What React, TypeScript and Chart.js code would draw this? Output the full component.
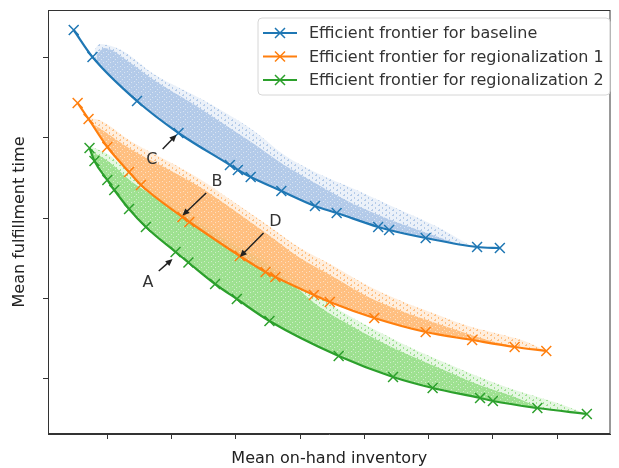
import React, { useEffect, useRef } from "react";
import { Chart, registerables } from "chart.js";

Chart.register(...registerables);

// ---- Efficient frontiers (x = mean on-hand inventory, y = mean fulfillment time; arbitrary units) ----
const baselineX = [0.477, 0.769, 1.462, 2.108, 2.908, 3.031, 3.231, 3.708, 4.231, 4.569, 5.215, 5.385, 5.954, 6.754, 7.108];
const baselineY = [5.35, 5.0125, 4.4625, 4.0625, 3.6625, 3.6, 3.5125, 3.3375, 3.15, 3.0625, 2.8875, 2.85, 2.75, 2.6375, 2.625];

const reg1X = [0.538, 0.708, 1.0, 1.338, 1.523, 2.169, 2.277, 3.062, 3.462, 3.615, 4.215, 4.462, 5.154, 5.954, 6.677, 7.338, 7.831];
const reg1Y = [4.4375, 4.2375, 3.8875, 3.575, 3.4125, 3.0125, 2.95, 2.525, 2.325, 2.2625, 2.0375, 1.95, 1.75, 1.575, 1.475, 1.3875, 1.3375];

const reg2X = [0.723, 0.8, 1.0, 1.108, 1.338, 1.6, 2.062, 2.262, 2.677, 3.015, 3.523, 4.6, 5.446, 6.062, 6.8, 7.0, 7.692, 8.462];
const reg2Y = [3.875, 3.7125, 3.475, 3.35, 3.1125, 2.8875, 2.575, 2.44375, 2.175, 1.9875, 1.7125, 1.275, 1.0125, 0.875, 0.75, 0.7125, 0.625, 0.55];

// ---- Upper edges of the dense part of the simulated solution clouds ----
const cloudBaseX = [0.831, 0.954, 1.338, 1.723, 2.338, 2.954, 3.262, 3.754, 4.262, 4.769, 5.185, 5.538, 6.062, 6.415];
const cloudBaseY = [5.04, 5.125, 4.95, 4.725, 4.425, 4.1, 3.9375, 3.6625, 3.425, 3.2, 3.05, 2.9375, 2.7875, 2.6875];

const cloudReg1X = [0.723, 0.877, 1.385, 1.908, 2.415, 2.923, 3.446, 4.0, 4.523, 5.031, 5.538, 6.062, 6.569, 7.031, 7.492];
const cloudReg1Y = [4.2, 4.125, 3.85, 3.625, 3.4, 3.125, 2.825, 2.5, 2.2625, 2.025, 1.85, 1.7, 1.5625, 1.45, 1.375];

const cloudReg2X = [0.754, 1.031, 1.385, 1.908, 2.415, 2.923, 3.446, 3.954, 4.262, 4.769, 5.292, 5.8, 6.308, 6.831, 7.338, 7.723];
const cloudReg2Y = [3.83, 3.7, 3.45, 3.1875, 2.9375, 2.6875, 2.45, 2.125, 1.9125, 1.6625, 1.4375, 1.25, 1.075, 0.9, 0.7625, 0.63];

// ---- Upper edges of the sparse outskirts of the clouds ----
const sparseBaseX = [0.8, 0.877, 1.215, 1.723, 2.492, 3.262, 3.754, 4.262, 4.877, 5.385, 6.108, 6.646];
const sparseBaseY = [5.1, 5.175, 5.1, 4.8, 4.475, 4.1, 3.7875, 3.5625, 3.35, 3.1625, 2.9, 2.655];

const sparseReg1X = [0.708, 0.877, 1.385, 1.908, 2.415, 2.923, 3.446, 4.0, 4.523, 5.031, 5.538, 6.062, 6.569, 7.031, 7.492, 7.831];
const sparseReg1Y = [4.25, 4.225, 3.95, 3.725, 3.5, 3.225, 2.9375, 2.625, 2.4, 2.1625, 1.975, 1.8125, 1.6625, 1.5625, 1.4625, 1.34];

const sparseReg2X = [0.723, 1.031, 1.385, 1.908, 2.415, 2.923, 3.446, 3.954, 4.262, 4.769, 5.292, 5.8, 6.308, 6.831, 7.338, 7.954, 8.462];
const sparseReg2Y = [3.9, 3.7875, 3.5375, 3.275, 3.025, 2.775, 2.5375, 2.25, 2.0375, 1.775, 1.55, 1.35, 1.175, 1.0, 0.85, 0.7, 0.55];

// ---- Legend ----
const legendLabels = [
  "Efficient frontier for baseline",
  "Efficient frontier for regionalization 1",
  "Efficient frontier for regionalization 2",
];

// ---- Annotations (data coordinates) ----
const annLabels = ["C", "B", "D", "A"];
const annTextX = [1.692, 2.708, 3.615, 1.631];
const annTextY = [3.725, 3.45, 2.95, 2.1875];
const annTailX = [1.862, 2.538, 3.431, 1.8];
const annTailY = [3.8625, 3.3125, 2.8125, 2.3375];
const annHeadX = [2.077, 2.169, 3.062, 2.015];
const annHeadY = [4.04, 3.03, 2.5125, 2.4875];

const xTitle = "Mean on-hand inventory";
const yTitle = "Mean fulfillment time";

const BLUE = "#1f77b4";
const ORANGE = "#ff7f0e";
const GREEN = "#2ca02c";
const LBLUE = "174,199,232";
const LORANGE = "255,187,120";
const LGREEN = "152,223,138";
const FONT = '"DejaVu Sans", sans-serif';

const zip = (xs: number[], ys: number[]) => xs.map((x, i) => ({ x, y: ys[i] }));

function frontier(label: string, xs: number[], ys: number[], color: string) {
  return {
    label,
    data: zip(xs, ys),
    borderColor: color,
    backgroundColor: color,
    borderWidth: 2.2,
    pointStyle: "crossRot" as const,
    pointRadius: 7,
    pointBorderWidth: 1.5,
    pointBorderColor: color,
    cubicInterpolationMode: "monotone" as const,
    fill: false,
  };
}

function cloud(xs: number[], ys: number[], bg: any, target: number) {
  return {
    label: "",
    data: zip(xs, ys),
    borderColor: "transparent",
    backgroundColor: bg,
    borderWidth: 0,
    pointRadius: 0,
    cubicInterpolationMode: "monotone" as const,
    fill: { target },
  };
}

// speckled texture tiles imitating a dense scatter of tiny dots
function densePattern(rgb: string): CanvasPattern | string {
  const c = document.createElement("canvas");
  c.width = 7;
  c.height = 5;
  const g = c.getContext("2d");
  if (!g) return `rgba(${rgb},0.85)`;
  g.fillStyle = `rgba(${rgb},0.9)`;
  g.fillRect(0, 0, 7, 5);
  g.fillStyle = "rgba(255,255,255,0.5)";
  g.fillRect(1, 1, 1, 1);
  g.fillRect(5, 2, 1, 1);
  g.fillRect(3, 4, 1, 1);
  const p = g.createPattern(c, "repeat");
  return p || `rgba(${rgb},0.85)`;
}

function sparsePattern(rgb: string): CanvasPattern | string {
  const c = document.createElement("canvas");
  c.width = 7;
  c.height = 5;
  const g = c.getContext("2d");
  if (!g) return `rgba(${rgb},0.4)`;
  g.fillStyle = `rgba(${rgb},0.25)`;
  g.fillRect(0, 0, 7, 5);
  g.fillStyle = `rgba(${rgb},0.9)`;
  g.fillRect(0, 0, 2, 1);
  g.fillRect(4, 2, 1, 2);
  g.fillRect(1, 4, 1, 1);
  const p = g.createPattern(c, "repeat");
  return p || `rgba(${rgb},0.4)`;
}

const overlayPlugin = {
  id: "overlay",
  afterDraw(chart: any) {
    const ctx: CanvasRenderingContext2D = chart.ctx;
    const { left, right, top, bottom } = chart.chartArea;
    const xs = chart.scales.x;
    const ys = chart.scales.y;
    ctx.save();
    // frame
    ctx.strokeStyle = "#333";
    ctx.lineWidth = 1;
    ctx.strokeRect(left + 0.5, top + 0.5, right - left - 1, bottom - top - 1);

    // annotations
    ctx.font = `16px ${FONT}`;
    ctx.textAlign = "center";
    ctx.textBaseline = "middle";
    annLabels.forEach((lab, i) => {
      ctx.fillStyle = "#333";
      ctx.fillText(lab, xs.getPixelForValue(annTextX[i]), ys.getPixelForValue(annTextY[i]));
      const x1 = xs.getPixelForValue(annTailX[i]);
      const y1 = ys.getPixelForValue(annTailY[i]);
      const x2 = xs.getPixelForValue(annHeadX[i]);
      const y2 = ys.getPixelForValue(annHeadY[i]);
      const ang = Math.atan2(y2 - y1, x2 - x1);
      const hl = 7, hw = 3.2;
      ctx.strokeStyle = "#222";
      ctx.lineWidth = 1.5;
      ctx.beginPath();
      ctx.moveTo(x1, y1);
      ctx.lineTo(x2 - Math.cos(ang) * hl * 0.8, y2 - Math.sin(ang) * hl * 0.8);
      ctx.stroke();
      ctx.fillStyle = "#222";
      ctx.beginPath();
      ctx.moveTo(x2, y2);
      ctx.lineTo(x2 - Math.cos(ang) * hl - Math.sin(ang) * hw, y2 - Math.sin(ang) * hl + Math.cos(ang) * hw);
      ctx.lineTo(x2 - Math.cos(ang) * hl + Math.sin(ang) * hw, y2 - Math.sin(ang) * hl - Math.cos(ang) * hw);
      ctx.closePath();
      ctx.fill();
    });

    // legend
    const bx = 258, by = 18, bw = 352, bh = 77, r = 4;
    ctx.beginPath();
    ctx.moveTo(bx + r, by);
    ctx.arcTo(bx + bw, by, bx + bw, by + bh, r);
    ctx.arcTo(bx + bw, by + bh, bx, by + bh, r);
    ctx.arcTo(bx, by + bh, bx, by, r);
    ctx.arcTo(bx, by, bx + bw, by, r);
    ctx.closePath();
    ctx.fillStyle = "rgba(255,255,255,0.85)";
    ctx.fill();
    ctx.strokeStyle = "#d6d6d6";
    ctx.lineWidth = 1;
    ctx.stroke();
    const colors = [BLUE, ORANGE, GREEN];
    legendLabels.forEach((lab, i) => {
      const cy = 33 + i * 23.5;
      ctx.strokeStyle = colors[i];
      ctx.lineWidth = 2.2;
      ctx.beginPath();
      ctx.moveTo(263, cy);
      ctx.lineTo(297, cy);
      ctx.stroke();
      const d = 5;
      ctx.lineWidth = 1.5;
      ctx.beginPath();
      ctx.moveTo(280 - d, cy - d);
      ctx.lineTo(280 + d, cy + d);
      ctx.moveTo(280 - d, cy + d);
      ctx.lineTo(280 + d, cy - d);
      ctx.stroke();
      ctx.fillStyle = "#333";
      ctx.textAlign = "left";
      ctx.textBaseline = "middle";
      ctx.font = `16px ${FONT}`;
      ctx.fillText(lab, 309, cy + 1);
    });

    // axis titles
    ctx.fillStyle = "#222";
    ctx.font = `16px ${FONT}`;
    ctx.textAlign = "center";
    ctx.textBaseline = "middle";
    ctx.fillText(xTitle, (left + right) / 2, 459);
    ctx.translate(20, (top + bottom) / 2);
    ctx.rotate(-Math.PI / 2);
    ctx.fillText(yTitle, 0, 0);
    ctx.restore();
  },
};

export default function App() {
  const ref = useRef<HTMLCanvasElement>(null);
  useEffect(() => {
    if (!ref.current) return;
    const chart = new Chart(ref.current, {
      type: "line",
      data: {
        datasets: [
          frontier(legendLabels[0], baselineX, baselineY, BLUE),
          frontier(legendLabels[1], reg1X, reg1Y, ORANGE),
          frontier(legendLabels[2], reg2X, reg2Y, GREEN),
          cloud(cloudBaseX, cloudBaseY, densePattern(LBLUE), 0),
          cloud(cloudReg1X, cloudReg1Y, densePattern(LORANGE), 1),
          cloud(cloudReg2X, cloudReg2Y, densePattern(LGREEN), 2),
          cloud(sparseBaseX, sparseBaseY, sparsePattern(LBLUE), 0),
          cloud(sparseReg1X, sparseReg1Y, sparsePattern(LORANGE), 1),
          cloud(sparseReg2X, sparseReg2Y, sparsePattern(LGREEN), 2),
        ] as any,
      },
      options: {
        animation: false,
        responsive: false,
        devicePixelRatio: 1,
        layout: { padding: { top: 10, right: 2, left: 0, bottom: 0 } },
        plugins: { legend: { display: false }, tooltip: { enabled: false } },
        scales: {
          x: {
            type: "linear",
            min: 0.077,
            max: 8.83,
            ticks: { display: false, stepSize: 1, includeBounds: false },
            grid: { drawOnChartArea: false, drawTicks: true, tickLength: 5, color: "#333", lineWidth: 1 },
            border: { display: true, color: "#333", width: 1 },
            afterFit: (s: any) => { s.height = 34; },
          },
          y: {
            type: "linear",
            min: 0.3,
            max: 5.6,
            ticks: { display: false, stepSize: 1, includeBounds: false },
            grid: { drawOnChartArea: false, drawTicks: true, tickLength: 5, color: "#333", lineWidth: 1 },
            border: { display: true, color: "#333", width: 1 },
            afterFit: (s: any) => { s.width = 48; },
          },
        },
      } as any,
      plugins: [overlayPlugin],
    });
    return () => chart.destroy();
  }, []);
  return (
    <div style={{ position: "fixed", left: 0, top: 0, width: 619, height: 468, background: "#fff" }}>
      <canvas ref={ref} width={619} height={468} style={{ display: "block", width: 619, height: 468 }} />
    </div>
  );
}
